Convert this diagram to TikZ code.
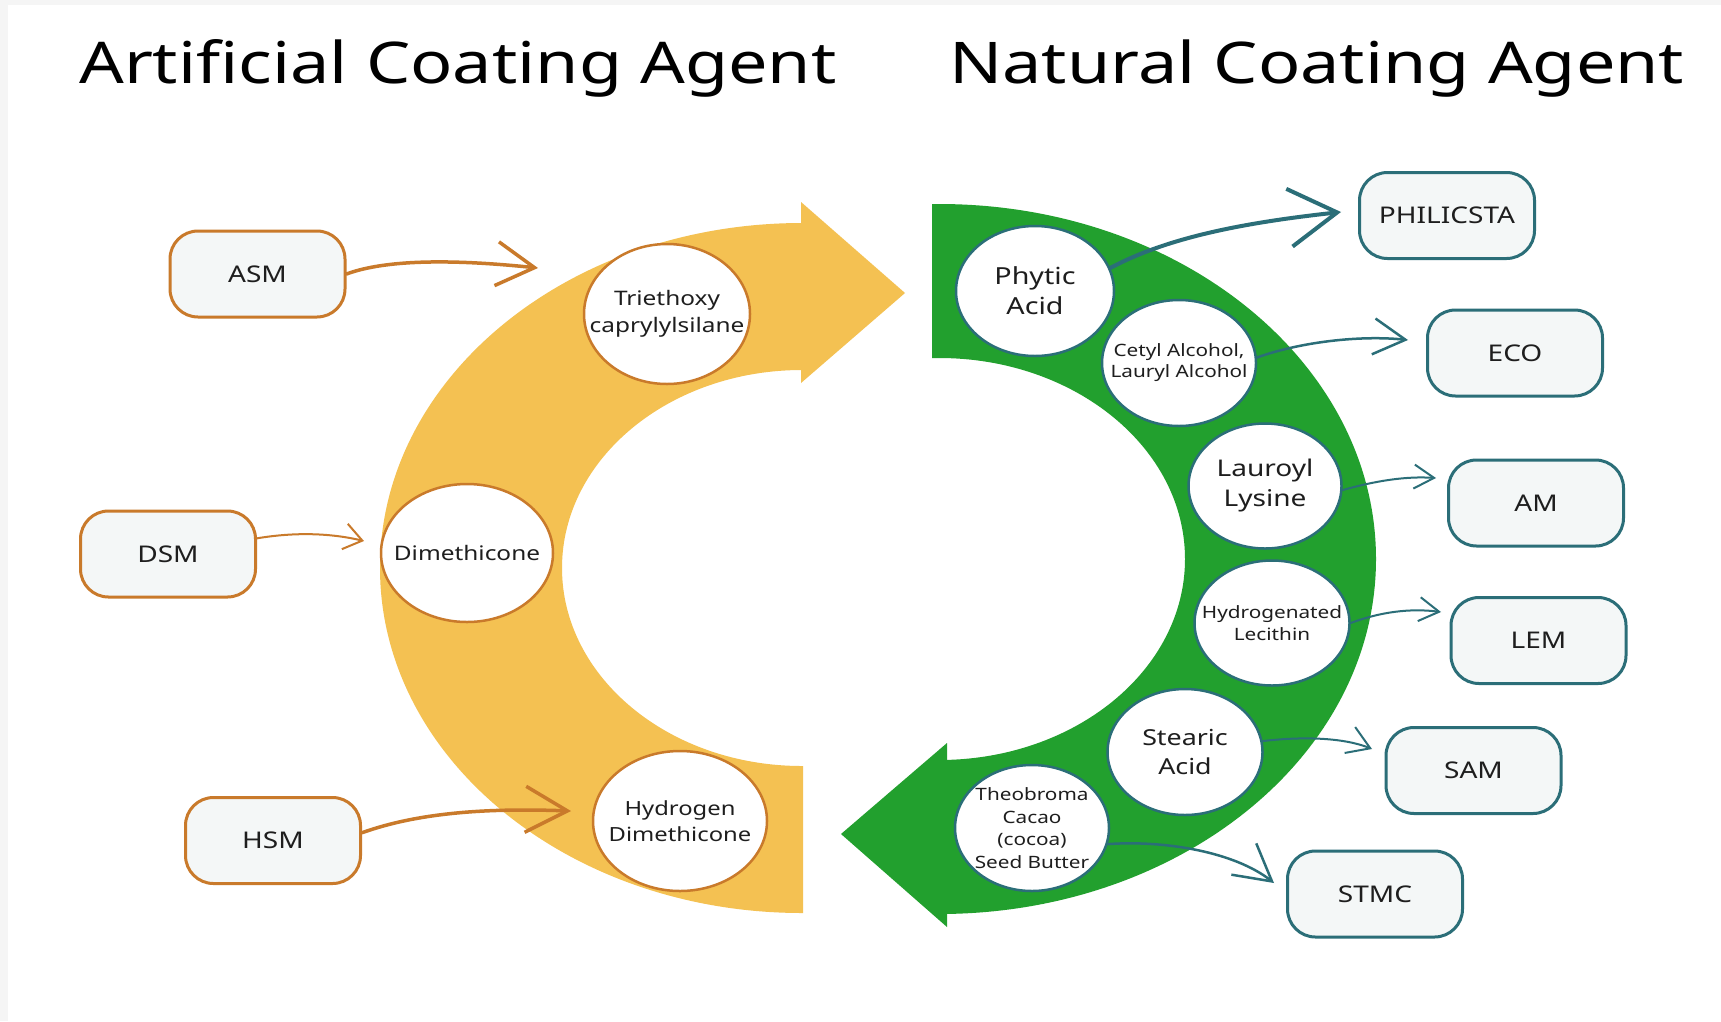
\documentclass[tikz,border=0pt]{standalone}
\usepackage{fontspec}
\setmainfont{Noto Sans}
\usepackage{graphicx}
\usetikzlibrary{shapes.geometric, arrows.meta}
\definecolor{ybg}{HTML}{F4C152}
\definecolor{gbg}{HTML}{22A02E}
\definecolor{ocol}{HTML}{C97A2B}
\definecolor{tcol}{HTML}{2B6E78}
\definecolor{bfill}{HTML}{F4F7F7}
\definecolor{txt}{HTML}{1E1E1E}
\definecolor{framecol}{HTML}{F5F5F5}
\newcommand{\W}[1]{\scalebox{1.22}[1]{#1}}
\newcommand{\fs}[2]{\fontsize{#1}{#2}\selectfont}
\begin{document}
\begin{tikzpicture}[x=1pt,y=-1pt,
  ell/.style={ellipse, fill=white, line width=2.5pt, inner sep=0pt},
  yell/.style={ell, draw=ocol},
  gell/.style={ell, draw=tcol},
  bx/.style={rectangle, rounded corners=28pt, fill=bfill, line width=3pt, minimum width=175pt, minimum height=86pt, inner sep=0pt, text=txt, font=\fs{23}{28}},
  obx/.style={bx, draw=ocol},
  tbx/.style={bx, draw=tcol},
  ct/.style={align=center, text=txt, inner sep=0pt},
  oarr/.style={draw=ocol, line cap=round, line join=round},
  tarr/.style={draw=tcol, line cap=round, line join=round},
  ttl/.style={anchor=base west, inner sep=0pt, text=black, font=\fs{57.5}{62}}
]
\useasboundingbox (0,0) rectangle (1721,1021);
\fill[framecol] (0,0) rectangle (1721,1021);
\fill[white] (8,5) rectangle (1721,1021);

% titles
\node[ttl] (t1) at (79,83) {\W{Artificial Coating Agent}};
\node[ttl] (t2) at (949,83) {\W{Natural Coating Agent}};

% yellow band
\begin{scope}
\clip (0,0) rectangle (803,1021);
\fill[ybg, even odd rule] (802,568) ellipse [x radius=422, y radius=345]
                          (802,568) ellipse [x radius=240, y radius=198];
\end{scope}
\fill[ybg] (801,202) -- (905,293) -- (801,383) -- cycle;

% green band
\begin{scope}
\clip (932,0) -- (932,460) -- (946,660) -- (946,1021) -- (1721,1021) -- (1721,0) -- cycle;
\fill[gbg, even odd rule] (939,559) ellipse [x radius=437, y radius=355]
                          (939,559) ellipse [x radius=246, y radius=201];
\end{scope}
\fill[gbg] (947,743) -- (841,834) -- (947,927) -- cycle;

% yellow circles
\node[yell, minimum width=166pt, minimum height=140pt] (tri) at (667,314) {};
\node[ct, font=\fs{20}{26.5}] (triT) at (tri.center) {\W{Triethoxy}\\\W{caprylylsilane}};
\node[yell, minimum width=172pt, minimum height=138pt] (dim) at (467,553) {};
\node[ct, font=\fs{20}{26}] (dimT) at (dim.center) {\W{Dimethicone}};
\node[yell, minimum width=174pt, minimum height=140pt] (hyd) at (680,821) {};
\node[ct, font=\fs{19.5}{25.5}] (hydT) at (hyd.center) {\W{Hydrogen}\\\W{Dimethicone}};

% green circles
\node[gell, minimum width=158pt, minimum height=130pt] (phy) at (1035,291) {};
\node[ct, font=\fs{23.5}{30}] (phyT) at (phy.center) {\W{Phytic}\\\W{Acid}};
\node[gell, minimum width=154pt, minimum height=126pt] (cet) at (1179,363) {};
\node[ct, font=\fs{17}{21}] (cetT) at (cet.center) {\W{Cetyl Alcohol,}\\\W{Lauryl Alcohol}};
\node[gell, minimum width=153pt, minimum height=125pt] (lau) at (1265,486) {};
\node[ct, font=\fs{23}{30}] (lauT) at (lau.center) {\W{Lauroyl}\\\W{Lysine}};
\node[gell, minimum width=155pt, minimum height=125pt] (lec) at (1272,623) {};
\node[ct, font=\fs{17}{21.5}] (lecT) at (lec.center) {\W{Hydrogenated}\\\W{Lecithin}};
\node[gell, minimum width=155pt, minimum height=126pt] (ste) at (1185,752) {};
\node[ct, font=\fs{22}{29}] (steT) at (ste.center) {\W{Stearic}\\\W{Acid}};
\node[gell, minimum width=154pt, minimum height=126pt] (theo) at (1032,828) {};
\node[ct, font=\fs{17}{22.5}] (theoT) at (theo.center) {\W{Theobroma}\\\W{Cacao}\\\W{(cocoa)}\\\W{Seed Butter}};

% boxes
\node[obx] (asm) at (257.5,274) {\W{ASM}};
\node[obx] (dsm) at (168,554) {\W{DSM}};
\node[obx] (hsm) at (273,840.5) {\W{HSM}};
\node[tbx] (phi) at (1447,215.5) {\W{PHILICSTA}};
\node[tbx] (eco) at (1515,353) {\W{ECO}};
\node[tbx] (am) at (1536,503) {\W{AM}};
\node[tbx] (lem) at (1538.5,640.5) {\W{LEM}};
\node[tbx] (sam) at (1473.5,770.5) {\W{SAM}};
\node[tbx] (stmc) at (1375,894) {\W{STMC}};

% arrow tips
\coordinate (asmT) at (538,268);
\coordinate (dsmT) at (364,541);
\coordinate (hsmT) at (571,811);
\coordinate (phiT) at (1341,212);
\coordinate (ecoT) at (1408,340);
\coordinate (amT) at (1436,478);
\coordinate (lemT) at (1441,612);
\coordinate (samT) at (1372,749);
\coordinate (stmT) at (1274,883);

% connectors
\draw[oarr, line width=3.5pt, -{Straight Barb[length=38pt,width=44pt]}] (asm.east) .. controls (395,256) and (480,262) .. (asmT);
\draw[oarr, line width=2pt, -{Straight Barb[length=18pt,width=26pt]}] (dsm.10) .. controls (295,532) and (330,533) .. (dsmT);
\draw[oarr, line width=3.5pt, -{Straight Barb[length=42pt,width=46pt]}] (hsm.5) .. controls (420,812) and (490,808) .. (hsmT);
\draw[tarr, line width=4pt, -{Straight Barb[length=48pt,width=58pt]}] (phy.17) .. controls (1170,236) and (1250,222) .. (phiT);
\draw[tarr, line width=2.5pt, -{Straight Barb[length=32pt,width=36pt]}] (cet.4) .. controls (1300,342) and (1360,335) .. (ecoT);
\draw[tarr, line width=2pt, -{Straight Barb[length=20pt,width=24pt]}] (lau.-3) .. controls (1375,481) and (1405,476) .. (amT);
\draw[tarr, line width=2pt, -{Straight Barb[length=20pt,width=24pt]}] (lec.east) .. controls (1380,612) and (1410,608) .. (lemT);
\draw[tarr, line width=2pt, -{Straight Barb[length=22pt,width=28pt]}] (ste.8) .. controls (1305,736) and (1345,738) .. (samT);
\draw[tarr, line width=2.5pt, -{Straight Barb[length=36pt,width=40pt]}] (theo.-12) .. controls (1165,840) and (1235,852) .. (stmT);
\end{tikzpicture}
\end{document}
